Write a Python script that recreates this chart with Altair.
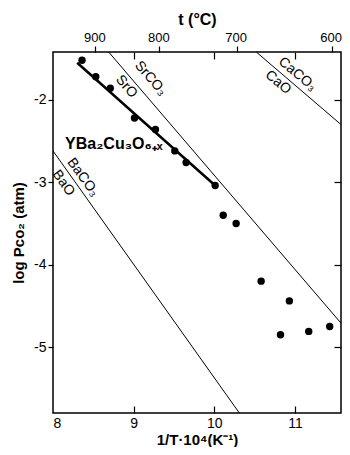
import altair as alt
import pandas as pd

# axis definitions
X_DOM = [8.0, 11.57]
Y_DOM = [-5.8, -1.42]
x_ticks = [8, 9, 10, 11]
x_inner_ticks = [9, 10, 11]
y_ticks = [-2, -3, -4, -5]
temp_ticks = [900, 800, 700, 600]
temp_pos = [1e4 / (t + 273.15) for t in temp_ticks]

# measured points (1/T*1e4, log pCO2)
pts_x = [8.36, 8.53, 8.71, 9.01, 9.27, 9.51, 9.65, 10.01, 10.11, 10.27, 10.58, 10.93, 10.82, 11.17, 11.43]
pts_y = [-1.52, -1.72, -1.86, -2.22, -2.36, -2.62, -2.76, -3.04, -3.40, -3.50, -4.20, -4.44, -4.85, -4.81, -4.75]

# fit line for YBa2Cu3O6+x
fit_x = [8.30, 10.01]
fit_y = [-1.55, -3.04]

# equilibrium lines
sr_x = [8.69, 11.57]
sr_y = [-1.42, -4.71]
ca_x = [10.52, 11.57]
ca_y = [-1.42, -2.30]
ba_x = [8.0, 10.31]
ba_y = [-2.62, -5.80]

# labels
lab_text = ["SrCO₃", "SrO", "CaCO₃", "CaO", "BaCO₃", "BaO"]
lab_x = [9.21, 8.91, 11.03, 10.79, 8.37, 8.13]
lab_y = [-1.74, -1.84, -1.69, -1.79, -2.94, -3.01]
lab_angle = [49, 49, 40, 40, 54, 54]

comp_text = ["YBa₂Cu₃O₆₊ₓ"]
comp_x = [8.15]
comp_y = [-2.54]

W, H = 288, 361
FONT = "Liberation Sans"

xs = alt.Scale(domain=X_DOM, nice=False, zero=False)
ys = alt.Scale(domain=Y_DOM, nice=False, zero=False)

df_pts = pd.DataFrame({"x": pts_x, "y": pts_y})
df_fit = pd.DataFrame({"x": fit_x, "y": fit_y})
df_sr = pd.DataFrame({"x": sr_x, "y": sr_y})
df_ca = pd.DataFrame({"x": ca_x, "y": ca_y})
df_ba = pd.DataFrame({"x": ba_x, "y": ba_y})
df_lab = pd.DataFrame({"x": lab_x, "y": lab_y, "t": lab_text, "a": lab_angle})
df_comp = pd.DataFrame({"x": comp_x, "y": comp_y, "t": comp_text})

hyphen = "datum.value < 0 ? '-' + format(-datum.value, 'd') : format(datum.value, 'd')"

# main points with bottom labels and left axis
pts = alt.Chart(df_pts).mark_circle(size=55, color="black", opacity=1).encode(
    x=alt.X("x:Q", scale=xs, axis=alt.Axis(
        orient="bottom", values=x_ticks, ticks=False, domain=False, grid=False,
        labelPadding=3, labelFontSize=14, format="d",
        title="1/T·10⁴(K⁻¹)", titleFontSize=15, titleFontWeight="bold", titlePadding=2)),
    y=alt.Y("y:Q", scale=ys, axis=alt.Axis(
        orient="left", values=y_ticks, tickSize=5, domain=False, grid=False,
        labelPadding=2, labelFontSize=14, labelExpr=hyphen,
        title="log Pco₂ (atm)", titleFontSize=15, titleFontWeight="bold", titlePadding=7)),
)

# fit line with top temperature axis and right inward ticks
fit = alt.Chart(df_fit).mark_line(color="black", strokeWidth=2.5).encode(
    x=alt.X("x:Q", scale=xs, axis=alt.Axis(
        orient="top", values=temp_pos, tickSize=6, domain=False, grid=False,
        labelExpr="format(10000/datum.value - 273.15, '.0f')", labelFontSize=13,
        labelPadding=2, labelOffset=-1,
        title="t (°C)", titleFontSize=16, titleFontWeight="bold", titlePadding=4)),
    y=alt.Y("y:Q", scale=ys, axis=alt.Axis(
        orient="left", offset=-W, values=y_ticks, tickSize=7, domain=False, grid=False,
        labels=False, title=None)),
)

sr = alt.Chart(df_sr).mark_line(color="black", strokeWidth=1).encode(
    x=alt.X("x:Q", scale=xs, axis=alt.Axis(
        orient="bottom", offset=-H, values=x_inner_ticks, tickSize=7, domain=False,
        grid=False, labels=False, title=None)),
    y=alt.Y("y:Q", scale=ys, axis=None),
)

ca = alt.Chart(df_ca).mark_line(color="black", strokeWidth=1).encode(
    x=alt.X("x:Q", scale=xs, axis=alt.Axis(
        orient="top", offset=-H, values=x_inner_ticks, tickSize=7, domain=False,
        grid=False, labels=False, title=None)),
    y=alt.Y("y:Q", scale=ys, axis=None),
)

ba = alt.Chart(df_ba).mark_line(color="black", strokeWidth=1).encode(
    x=alt.X("x:Q", scale=xs, axis=None),
    y=alt.Y("y:Q", scale=ys, axis=None),
)

labels = alt.Chart(df_lab).mark_text(
    font=FONT, fontSize=14, color="black", align="center", baseline="middle"
).encode(
    x=alt.X("x:Q", scale=xs, axis=None),
    y=alt.Y("y:Q", scale=ys, axis=None),
    text="t:N",
    angle=alt.Angle("a:Q", scale=None),
)

comp = alt.Chart(df_comp).mark_text(
    font=FONT, fontSize=16, fontWeight="bold", color="black", align="left", baseline="middle"
).encode(
    x=alt.X("x:Q", scale=xs, axis=None),
    y=alt.Y("y:Q", scale=ys, axis=None),
    text="t:N",
)

chart = alt.layer(ba, sr, ca, fit, pts, labels, comp).resolve_axis(
    x="independent", y="independent"
).properties(
    width=W, height=H,
    autosize=alt.AutoSizeParams(type="none"),
    padding={"left": 45, "top": 44, "right": 1, "bottom": 34},
).configure_view(
    stroke="black", strokeWidth=1.5
).configure_axis(
    labelFont=FONT, titleFont=FONT, labelColor="black", titleColor="black",
    tickColor="black", tickWidth=1.2,
)

chart.save("out.html", embed_options={"renderer": "svg", "actions": False})
